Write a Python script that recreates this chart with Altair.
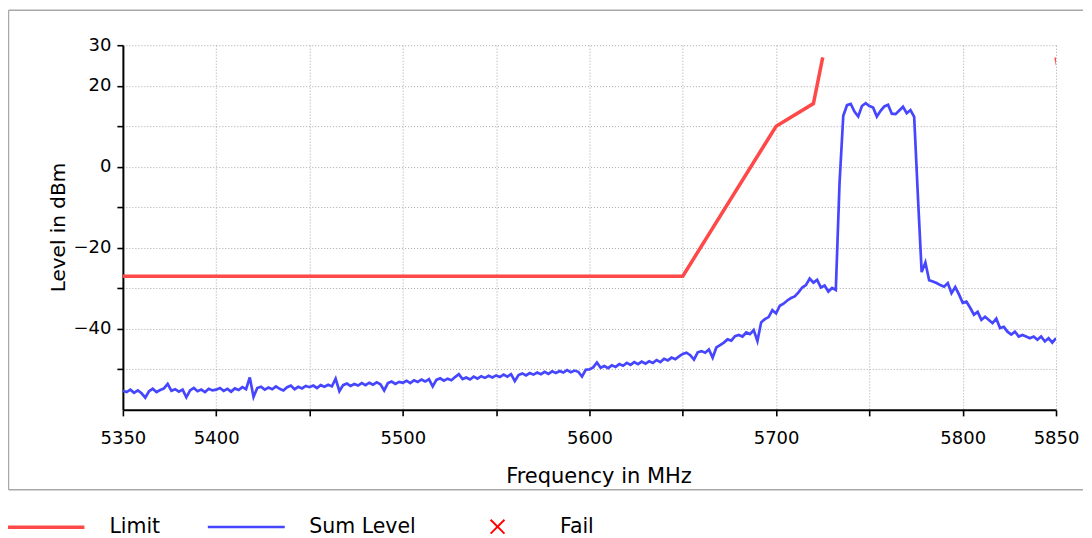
import altair as alt
import pandas as pd

# ---------------- data ----------------
series_names = ["Limit", "Sum Level", "Fail"]
series_colors = ["#ff4848", "#4646ff", "#ff0000"]
series_widths = [3.5, 1.9, 1.6]
series_shapes = ["stroke", "stroke", "M-0.18,-0.18L0.18,0.18M-0.18,0.18L0.18,-0.18"]

limit_freq = [5350, 5650, 5700, 5720, 5725, 5850, 5855]
limit_level = [-27, -27, 10, 15.6, 27, 27, 15.6]
limit_part = [1, 1, 1, 1, 1, 2, 2]

sum_start = 5350
sum_step = 2
sum_level = [
    # 5350 - 5398
    -55.3, -55.6, -55.0, -55.8, -55.2, -55.9, -57.0, -55.4, -54.8, -55.6,
    -55.1, -54.7, -53.6, -55.3, -54.9, -55.5, -55.0, -56.9, -55.2, -54.6,
    -55.4, -55.0, -55.6, -54.8, -55.2,
    # 5400 - 5448
    -55.0, -54.6, -55.3, -54.8, -55.5, -54.7, -55.1, -54.4, -54.9, -52.0,
    -56.8, -54.6, -54.3, -55.0, -54.5, -54.9, -54.2, -54.8, -55.2, -54.4,
    -54.0, -54.9, -54.3, -54.7, -54.1,
    # 5450 - 5498
    -54.4, -54.0, -54.6, -53.9, -54.3, -53.8, -54.2, -52.3, -55.4, -53.9,
    -53.5, -54.1, -53.6, -54.0, -53.4, -53.9, -53.3, -53.8, -53.2, -53.7,
    -55.2, -53.4, -53.0, -53.6, -53.1,
    # 5500 - 5548
    -53.3, -52.8, -53.4, -52.7, -53.1, -52.5, -53.0, -52.4, -54.2, -52.6,
    -52.2, -52.8, -52.3, -52.7, -51.9, -51.2, -52.4, -52.0, -52.5, -51.8,
    -52.3, -51.7, -52.1, -51.6, -52.0,
    # 5550 - 5598
    -51.5, -51.9, -51.3, -51.8, -51.2, -52.9, -51.4, -51.0, -51.5, -50.9,
    -51.3, -50.8, -51.2, -50.6, -51.1, -50.5, -50.9, -50.4, -50.8, -50.2,
    -50.7, -50.3, -50.6, -51.8, -50.1,
    # 5600 - 5648
    -50.0, -49.5, -48.3, -49.6, -49.2, -49.7, -49.0, -49.4, -48.7, -49.1,
    -48.4, -48.9, -48.2, -48.7, -48.1, -48.6, -48.0, -48.4, -47.7, -48.2,
    -47.4, -47.8, -47.1, -47.5, -46.8,
    # 5650 - 5698
    -46.2, -45.9, -46.5, -47.6, -45.8, -45.5, -45.9, -45.1, -47.1, -44.6,
    -44.0, -43.4, -42.6, -42.9, -41.8, -41.5, -41.9, -40.9, -41.3, -40.3,
    -43.0, -38.4, -37.6, -37.1, -35.4,
    # 5700 - 5748
    -36.2, -34.3, -33.8, -33.0, -32.4, -32.0, -31.0, -29.8, -29.2, -27.6,
    -28.6, -27.9, -29.8, -29.3, -30.8, -29.9, -30.4, -4.0, 12.6, 15.2,
    15.5, 13.6, 12.4, 15.0, 15.7,
    # 5750 - 5798
    15.0, 14.6, 12.4, 13.8, 14.9, 15.3, 13.1, 13.0, 13.9, 14.8,
    13.2, 14.0, 12.3, -7.4, -26.0, -23.6, -28.0, -28.3, -28.7, -29.2,
    -29.6, -28.7, -31.2, -29.7, -31.5,
    # 5800 - 5850
    -33.6, -33.3, -34.8, -36.5, -35.8, -37.8, -37.0, -37.8, -38.6, -37.5,
    -39.8, -39.5, -40.7, -41.4, -40.7, -41.9, -41.5, -41.9, -42.3, -41.9,
    -42.7, -41.9, -43.1, -42.3, -43.4, -42.3,
]

x_ticks = [5350, 5400, 5450, 5500, 5550, 5600, 5650, 5700, 5750, 5800, 5850]
x_hidden_labels = [5450, 5550, 5650, 5750]
y_ticks = [-50, -40, -30, -20, -10, 0, 10, 20, 30]
y_shown_labels = [30, 20, 0, -20, -40]

# ---------------- table ----------------
rows = []
for f, v, p in zip(limit_freq, limit_level, limit_part):
    rows.append({"series": "Limit", "part": p, "freq": f, "level": v})
for i, v in enumerate(sum_level):
    rows.append({"series": "Sum Level", "part": 0, "freq": sum_start + sum_step * i, "level": v})
df = pd.DataFrame(rows)

FONT = "DejaVu Sans"

x_enc = alt.X(
    "freq:Q",
    scale=alt.Scale(domain=[5350, 5850], nice=False, zero=False),
    axis=alt.Axis(
        values=x_ticks, format="d",
        labelExpr="indexof(%s, datum.value) >= 0 ? '' : datum.label" % str(x_hidden_labels),
        grid=True, gridColor="#a8a8a8", gridDash=[1, 2], gridWidth=1,
        domainColor="black", domainWidth=2, tickColor="black", tickSize=6, tickWidth=1.6,
        labelFont=FONT, labelFontSize=18, labelColor="black", labelPadding=14, labelFlush=False,
        title="Frequency in MHz", titleFont=FONT, titleFontSize=21, titleFontWeight="normal",
        titleColor="black", titleX=476, titleY=73, titleBaseline="alphabetic", titleAlign="center",
    ),
)
y_enc = alt.Y(
    "level:Q",
    scale=alt.Scale(domain=[-60, 30], nice=False, zero=False),
    axis=alt.Axis(
        values=y_ticks,
        labelExpr="indexof(%s, datum.value) >= 0 ? datum.label : ''" % str(y_shown_labels),
        grid=True, gridColor="#a8a8a8", gridDash=[1, 2], gridWidth=1,
        domainColor="black", domainWidth=2, tickColor="black", tickSize=6, tickWidth=1.6,
        labelFont=FONT, labelFontSize=18, labelColor="black", labelPadding=6, labelFlush=False,
        title="Level in dBm", titleFont=FONT, titleFontSize=20, titleFontWeight="normal",
        titleColor="black", titleX=-58, titleY=182, titleBaseline="alphabetic", titleAngle=-90,
    ),
)

legend = alt.Legend(
    orient="none", legendX=-117.5, legendY=442, direction="horizontal", title=None,
    symbolSize=5929, labelOffset=23, columnPadding=42, padding=0,
    labelFont=FONT, labelFontSize=20.5, labelColor="black",
)

color_enc = alt.Color("series:N", scale=alt.Scale(domain=series_names, range=series_colors), legend=legend)
width_enc = alt.StrokeWidth("series:N", scale=alt.Scale(domain=series_names, range=series_widths), legend=legend)
shape_enc = alt.Shape("series:N", scale=alt.Scale(domain=series_names, range=series_shapes), legend=legend)

lines = alt.Chart(df).mark_line(clip=True).encode(
    x=x_enc, y=y_enc, color=color_enc, strokeWidth=width_enc,
    detail="part:N", order="freq:Q",
)

fail_pts = alt.Chart(df).transform_filter("datum.series == 'Fail'").mark_point(
    size=5929, filled=False, opacity=1
).encode(x=x_enc, y=y_enc, color=color_enc, strokeWidth=width_enc, shape=shape_enc)

frame_df = pd.DataFrame({"k": [0]})
frame_color = "#a8a8a8"
frame_top = alt.Chart(frame_df).mark_rule(color=frame_color, strokeWidth=1.5).encode(
    x=alt.value(-114.5), x2=alt.value(961), y=alt.value(-35))
frame_left = alt.Chart(frame_df).mark_rule(color=frame_color, strokeWidth=1.5).encode(
    x=alt.value(-114.5), y=alt.value(-35), y2=alt.value(445))
frame_bottom = alt.Chart(frame_df).mark_rule(color=frame_color, strokeWidth=1.5).encode(
    x=alt.value(-114.5), x2=alt.value(961), y=alt.value(445))

chart = alt.layer(frame_top, frame_left, frame_bottom, lines, fail_pts).properties(
    width=934, height=365,
    padding={"left": -3, "top": 1, "right": 0, "bottom": 0},
    background="white",
).configure_view(stroke=None)

chart.save("out.html", embed_options={"renderer": "svg", "actions": False})
